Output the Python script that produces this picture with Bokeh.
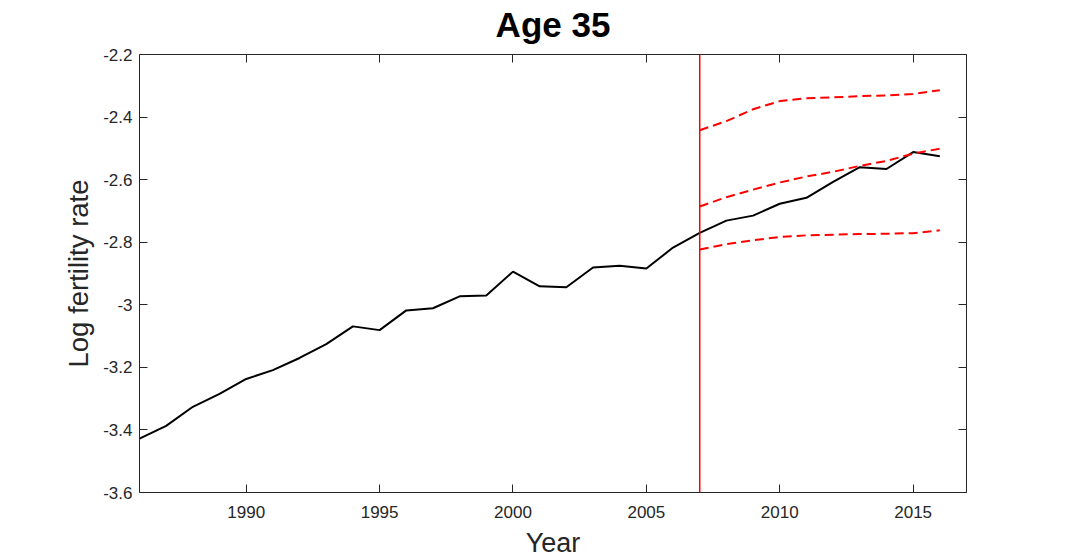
from bokeh.plotting import figure
from bokeh.models import Range1d, LinearAxis, FixedTicker, CustomJSTickFormatter, Span
from bokeh.embed import file_html
from bokeh.resources import INLINE

# ---- data ----
years = list(range(1986, 2017))
log_rate = [-3.428, -3.387, -3.326, -3.285, -3.237, -3.209, -3.170, -3.126, -3.069, -3.081,
            -3.018, -3.011, -2.973, -2.970, -2.894, -2.941, -2.944, -2.881, -2.875, -2.884,
            -2.817, -2.770, -2.731, -2.715, -2.677, -2.658, -2.607, -2.560, -2.566, -2.512,
            -2.525]
fc_years = list(range(2007, 2017))
fc_upper = [-2.442, -2.413, -2.375, -2.349, -2.340, -2.337, -2.333, -2.331, -2.326, -2.314]
fc_mid = [-2.686, -2.656, -2.632, -2.609, -2.590, -2.575, -2.556, -2.540, -2.517, -2.501]
fc_lower = [-2.823, -2.806, -2.794, -2.783, -2.778, -2.776, -2.774, -2.773, -2.771, -2.762]
forecast_start = 2007
x_ticks = [1990, 1995, 2000, 2005, 2010, 2015]
y_ticks = [-3.6, -3.4, -3.2, -3.0, -2.8, -2.6, -2.4, -2.2]
title_text = "Age 35"
x_label = "Year"
y_label = "Log fertility rate"

FONT = "Liberation Sans"
AX = "#262626"

p = figure(width=1059, height=560, output_backend="svg", toolbar_location=None,
           x_range=Range1d(1986, 2017), y_range=Range1d(-3.6, -2.2),
           min_border_left=139, min_border_right=93, min_border_top=54, min_border_bottom=67)
p.background_fill_color = "white"
p.border_fill_color = "white"
p.outline_line_color = None
p.grid.visible = False

fmt = CustomJSTickFormatter(code="return String(Math.round(tick*10)/10);")
blank = CustomJSTickFormatter(code="return '';")

def style_axis(ax, show_labels):
    ax.axis_line_color = AX
    ax.axis_line_width = 1
    ax.major_tick_line_color = AX
    ax.major_tick_in = 8
    ax.major_tick_out = 0
    ax.minor_tick_line_color = None
    ax.major_label_text_font = FONT
    if show_labels:
        ax.major_label_text_color = AX
        ax.major_label_text_font_size = "17px"
    else:
        ax.formatter = blank
        ax.major_label_text_color = None
        ax.major_label_text_font_size = "1px"
        ax.major_label_standoff = 0

xa = p.xaxis[0]
xa.ticker = FixedTicker(ticks=x_ticks)
style_axis(xa, True)
xa.major_label_standoff = 13
xa.axis_label = x_label
xa.axis_label_text_font = FONT
xa.axis_label_text_font_size = "27px"
xa.axis_label_text_font_style = "normal"
xa.axis_label_text_color = AX
xa.axis_label_standoff = 7

ya = p.yaxis[0]
ya.ticker = FixedTicker(ticks=y_ticks)
ya.formatter = fmt
style_axis(ya, True)
ya.major_label_standoff = 7
ya.axis_label = y_label
ya.axis_label_text_font = FONT
ya.axis_label_text_font_size = "27.5px"
ya.axis_label_text_font_style = "normal"
ya.axis_label_text_color = AX
ya.axis_label_standoff = 6

# top axis (box edge) also carries the chart title above the frame
top = LinearAxis(ticker=FixedTicker(ticks=x_ticks))
style_axis(top, False)
top.axis_label = title_text
top.axis_label_text_font = FONT
top.axis_label_text_font_size = "35px"
top.axis_label_text_font_style = "bold"
top.axis_label_text_color = "black"
top.axis_label_standoff = 11
p.add_layout(top, "above")
right = LinearAxis(ticker=FixedTicker(ticks=y_ticks))
style_axis(right, False)
p.add_layout(right, "right")

p.line(years, log_rate, line_color="black", line_width=2)
p.add_layout(Span(location=forecast_start, dimension="height", line_color="red", line_width=1.5))
for series in (fc_upper, fc_mid, fc_lower):
    p.line(fc_years, series, line_color="red", line_width=2, line_dash="9 5")

open("out.html", "w").write(file_html(p, INLINE))
